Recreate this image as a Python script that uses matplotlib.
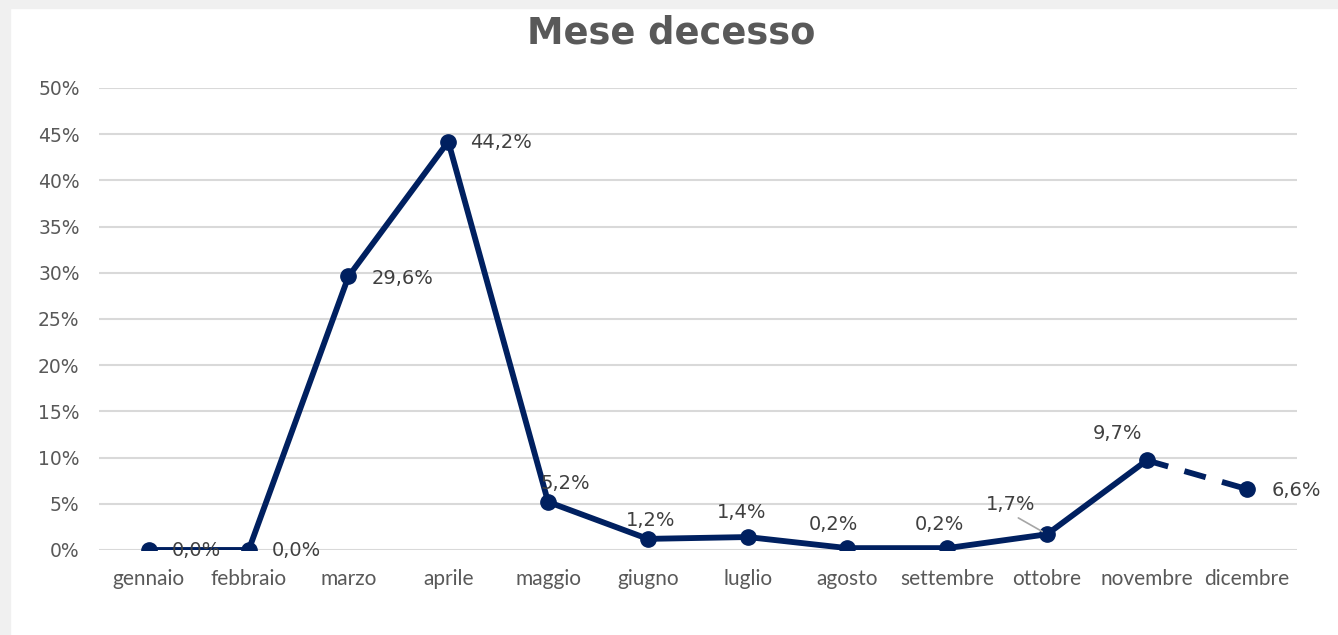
import matplotlib
matplotlib.use("Agg")
import matplotlib.pyplot as plt
from matplotlib.patches import Rectangle
from matplotlib.ticker import MultipleLocator, FuncFormatter

# data
mesi = ["gennaio", "febbraio", "marzo", "aprile", "maggio", "giugno",
        "luglio", "agosto", "settembre", "ottobre", "novembre", "dicembre"]
quota = [0.0, 0.0, 29.6, 44.2, 5.2, 1.2, 1.4, 0.2, 0.2, 1.7, 9.7, 6.6]
etichette = ["0,0%", "0,0%", "29,6%", "44,2%", "5,2%", "1,2%",
             "1,4%", "0,2%", "0,2%", "1,7%", "9,7%", "6,6%"]

# label placement (pixel offsets from point, alignment)
offsets = [(23, -1), (23, -1), (23, -2), (22, -1), (17, 18), (3, 18),
           (-6, 25), (-14, 24), (-8, 24), (-36, 30), (-29, 27), (25, -2)]
aligns = ["left", "left", "left", "left", "center", "center",
          "center", "center", "center", "center", "center", "left"]

NAVY = "#002060"
GRAY_TXT = "#595959"
LABEL_TXT = "#404040"

fig = plt.figure(figsize=(13.38, 6.35), dpi=100)
fig.patch.set_facecolor("white")
# light grey frame at top and left
fig.patches.append(Rectangle((0, 1 - 8 / 635), 1, 8 / 635, transform=fig.transFigure,
                             color="#f0f0f0", zorder=0))
fig.patches.append(Rectangle((0, 0), 10 / 1338, 1, transform=fig.transFigure,
                             color="#f0f0f0", zorder=0))

ax = fig.add_axes([0.074, 0.1339, 0.895, 0.7276])
x = list(range(len(mesi)))
y = [v / 100 for v in quota]

# solid up to novembre, dashed to dicembre
ax.plot(x[:-1], y[:-1], color=NAVY, lw=4.2, marker="o", ms=11,
        solid_capstyle="round", solid_joinstyle="round", zorder=3)
ax.plot(x[-2:], y[-2:], color=NAVY, lw=4.2, ls=(0, (3.8, 2.9)),
        dash_capstyle="butt", zorder=3)
ax.plot(x[-1:], y[-1:], color=NAVY, marker="o", ms=11, ls="none", zorder=4)

for i, (lab, (dx, dy), ha) in enumerate(zip(etichette, offsets, aligns)):
    kw = {}
    if mesi[i] == "ottobre":
        kw["arrowprops"] = dict(arrowstyle="-", color="#a6a6a6", lw=1.2,
                                relpos=(0.5, 0.0), shrinkA=2, shrinkB=4)
    ax.annotate(lab, (x[i], y[i]), xytext=(dx, dy), textcoords="offset pixels",
                ha=ha, va="center", fontsize=14, color=LABEL_TXT,
                family="DejaVu Sans", zorder=5, **kw)

ax.set_xlim(-0.5, len(mesi) - 0.5)
ax.set_ylim(0, 0.5)
ax.yaxis.set_major_locator(MultipleLocator(0.05))
ax.yaxis.set_major_formatter(FuncFormatter(lambda v, p: f"{v * 100:.0f}%"))
ax.set_xticks(x)
ax.set_xticklabels(mesi, family="Lato", fontsize=15, color=GRAY_TXT)
for t in ax.get_yticklabels():
    t.set_color(GRAY_TXT)
    t.set_fontsize(13.5)
ax.tick_params(axis="x", length=0, pad=14)
ax.tick_params(axis="y", length=0, pad=14)

ax.grid(axis="y", color="#d9d9d9", lw=1.5)
ax.set_axisbelow(True)
for s in ax.spines.values():
    s.set_visible(False)
ax.patch.set_alpha(0)

fig.text(0.502, 0.948, "Mese decesso", ha="center", va="center",
         fontsize=26.5, fontweight="bold", color=GRAY_TXT)

fig.savefig("out.png", dpi=100)
